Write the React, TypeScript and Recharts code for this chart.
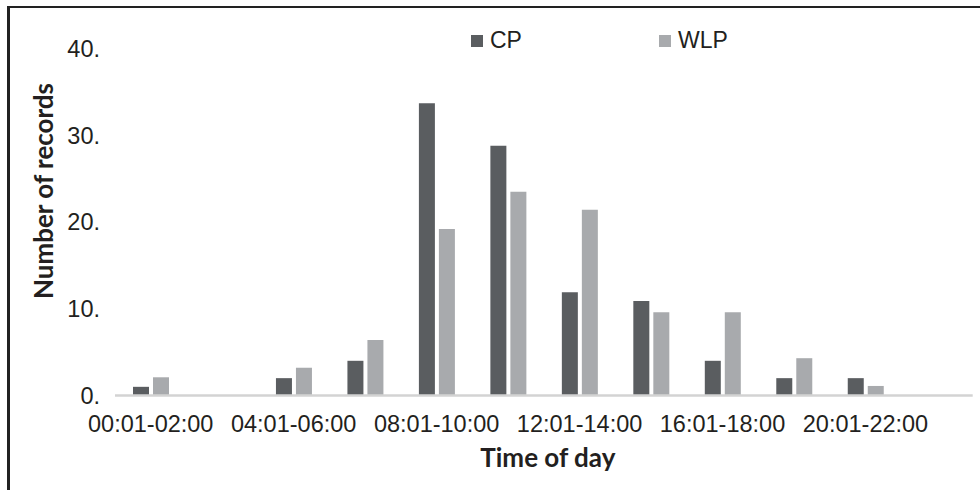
import { BarChart, Bar, XAxis, YAxis, Legend } from 'recharts'

const timeSlots = [
  '00:01-02:00', '02:01-04:00', '04:01-06:00', '06:01-08:00',
  '08:01-10:00', '10:01-12:00', '12:01-14:00', '14:01-16:00',
  '16:01-18:00', '18:01-20:00', '20:01-22:00', '22:01-24:00',
]
const cpRecords = [1, 0, 2, 4, 33.7, 28.8, 11.9, 10.9, 4, 2, 2, 0]
const wlpRecords = [2.1, 0, 3.2, 6.4, 19.2, 23.5, 21.4, 9.6, 9.6, 4.3, 1.1, 0]
const yTicks = [0, 10, 20, 30, 40]

const CP_COLOR = '#5a5d60'
const WLP_COLOR = '#a8aaad'
const TEXT = '#231f20'
const tickFont = { fontFamily: '"Liberation Sans", Arial, sans-serif', fontSize: 23.5, fill: TEXT }
const titleFont = '"Lato", "Open Sans", sans-serif'

const data = timeSlots.map((slot, i) => ({ slot, CP: cpRecords[i], WLP: wlpRecords[i] }))

function renderLegend(props: any) {
  const items = props.payload || []
  return (
    <div style={{ display: 'flex', alignItems: 'center', height: 23, lineHeight: '23px', fontFamily: tickFont.fontFamily, fontSize: 23, color: TEXT }}>
      {items.map((it: any, i: number) => (
        <div key={it.value} style={{ display: 'flex', alignItems: 'center', marginLeft: i === 0 ? 471 : 137 }}>
          <span style={{ width: 12, height: 12, background: it.color, marginRight: 7, display: 'inline-block' }} />
          <span>{it.value}</span>
        </div>
      ))}
    </div>
  )
}

export default function App() {
  return (
    <div style={{ position: 'absolute', left: 0, top: 0, width: 980, height: 490, background: '#fff' }}>
      <div style={{ position: 'absolute', left: 7, top: 6, right: 0, bottom: 0, borderTop: '2px solid #222', borderLeft: '3px solid #222' }} />
      <div style={{ position: 'absolute', left: 0, top: 0 }}>
        <BarChart width={980} height={490} data={data} margin={{ top: 48.5, right: 7.3, left: 0, bottom: 0 }} barGap={4}>
          <XAxis
            dataKey="slot"
            interval={1}
            height={94.5}
            tickSize={0}
            tickMargin={20}
            tick={tickFont}
            axisLine={{ stroke: '#d3d3d3', strokeWidth: 2.5 }}
            tickLine={false}
            label={{
              content: ({ viewBox }: any) => (
                <text x={viewBox.x + viewBox.width / 2 + 4} y={466.7} textAnchor="middle" fontFamily={titleFont} fontWeight={700} fontSize={26} fill={TEXT}>
                  Time of day
                </text>
              ),
            }}
          />
          <YAxis
            width={115}
            domain={[0, 40]}
            ticks={yTicks}
            tickFormatter={(v) => `${v}.`}
            tickSize={0}
            tickMargin={15}
            tick={tickFont}
            axisLine={false}
            tickLine={false}
            label={{
              content: () => (
                <text x={53} y={191} transform="rotate(-90, 53, 191)" textAnchor="middle" fontFamily={titleFont} fontWeight={700} fontSize={26} fill={TEXT}>
                  Number of records
                </text>
              ),
            }}
          />
          <Legend
            layout="horizontal"
            verticalAlign="middle"
            align="center"
            wrapperStyle={{ top: 29, left: 0, width: 980 }}
            content={renderLegend}
          />
          <Bar dataKey="CP" name="CP" fill={CP_COLOR} barSize={16} isAnimationActive={false} />
          <Bar dataKey="WLP" name="WLP" fill={WLP_COLOR} barSize={16} isAnimationActive={false} />
        </BarChart>
      </div>
    </div>
  )
}
